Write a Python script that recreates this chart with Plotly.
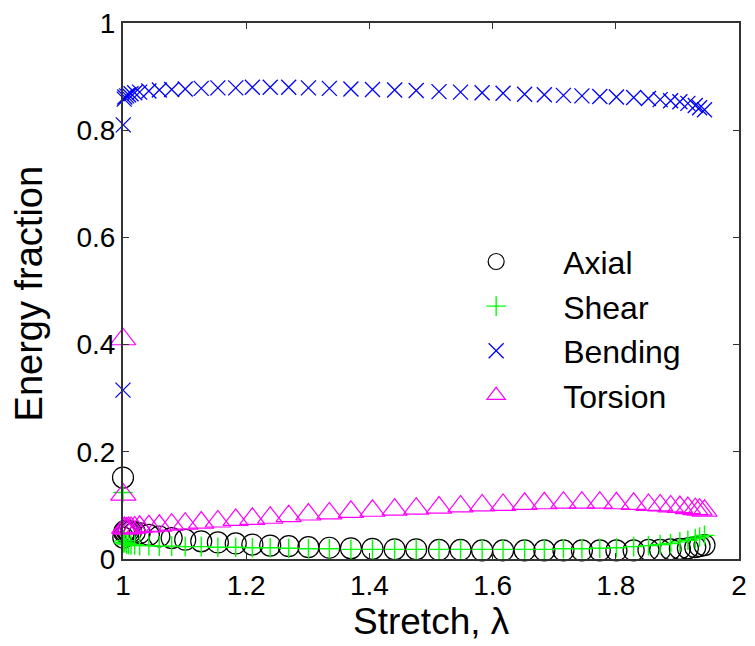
import plotly.graph_objects as go

stretch = [1.000, 1.0005, 1.002, 1.003, 1.006, 1.009, 1.013, 1.019, 1.027, 1.042,
           1.059, 1.079, 1.101, 1.127, 1.154, 1.183, 1.210, 1.239, 1.269, 1.301,
           1.335, 1.370, 1.405, 1.441, 1.476, 1.513, 1.548, 1.583, 1.617, 1.652,
           1.684, 1.715, 1.745, 1.774, 1.801, 1.829, 1.853, 1.872, 1.889, 1.904,
           1.917, 1.929, 1.936, 1.944]

axial = [0.152, 0.040, 0.050, 0.052, 0.053, 0.052, 0.051, 0.050, 0.048, 0.045,
         0.042, 0.039, 0.036, 0.033, 0.031, 0.029, 0.027, 0.025, 0.024, 0.022,
         0.021, 0.020, 0.019, 0.018, 0.018, 0.017, 0.017, 0.016, 0.016, 0.016,
         0.016, 0.016, 0.016, 0.016, 0.016, 0.016, 0.017, 0.017, 0.018, 0.019,
         0.020, 0.022, 0.024, 0.026]

shear = [0.124, 0.030, 0.034, 0.030, 0.028, 0.027, 0.026, 0.026, 0.025, 0.025,
         0.024, 0.024, 0.023, 0.023, 0.022, 0.022, 0.021, 0.021, 0.020, 0.019,
         0.019, 0.018, 0.018, 0.018, 0.018, 0.018, 0.018, 0.018, 0.018, 0.018,
         0.018, 0.019, 0.019, 0.020, 0.021, 0.023, 0.025, 0.027, 0.029, 0.032,
         0.035, 0.038, 0.041, 0.044]

bending = [0.315, 0.810, 0.858, 0.862, 0.864, 0.866, 0.868, 0.870, 0.871, 0.873,
           0.875, 0.876, 0.877, 0.878, 0.879, 0.879, 0.880, 0.880, 0.880, 0.879,
           0.878, 0.877, 0.876, 0.875, 0.874, 0.872, 0.871, 0.870, 0.869, 0.867,
           0.866, 0.865, 0.864, 0.863, 0.862, 0.861, 0.859, 0.857, 0.855, 0.853,
           0.850, 0.846, 0.842, 0.838]

torsion = [0.410, 0.120, 0.058, 0.057, 0.057, 0.058, 0.058, 0.059, 0.060, 0.061,
           0.062, 0.064, 0.066, 0.068, 0.070, 0.073, 0.075, 0.077, 0.080, 0.083,
           0.085, 0.088, 0.090, 0.092, 0.094, 0.096, 0.098, 0.100, 0.101, 0.103,
           0.104, 0.105, 0.105, 0.105, 0.104, 0.103, 0.101, 0.100, 0.098, 0.097,
           0.095, 0.093, 0.092, 0.090]

x_ticks = [1, 1.2, 1.4, 1.6, 1.8, 2]
x_tick_text = ["1", "1.2", "1.4", "1.6", "1.8", "2"]
y_ticks = [0, 0.2, 0.4, 0.6, 0.8, 1]
y_tick_text = ["0", "0.2", "0.4", "0.6", "0.8", "1"]

FONT = "Arial, Liberation Sans, sans-serif"

fig = go.Figure()
fig.add_trace(go.Scatter(x=stretch, y=axial, mode="markers", name="Axial",
                         cliponaxis=False, legendgroup="a",
                         marker=dict(symbol="circle-open", size=21, color="black",
                                     line=dict(width=1.2, color="black"))))
fig.add_trace(go.Scatter(x=stretch, y=shear, mode="markers", name="Shear",
                         cliponaxis=False, legendgroup="s",
                         marker=dict(symbol="cross-thin-open", size=14, color="#00ff00",
                                     line=dict(width=1.4, color="#00ff00"))))
fig.add_trace(go.Scatter(x=stretch, y=bending, mode="markers", name="Bending",
                         cliponaxis=False, legendgroup="b",
                         marker=dict(symbol="x-thin-open", size=15, color="#0000ff",
                                     line=dict(width=1.3, color="#0000ff"))))
fig.add_trace(go.Scatter(x=stretch, y=torsion, mode="markers", name="Torsion",
                         cliponaxis=False, legendgroup="t",
                         marker=dict(symbol="triangle-up-open", size=22, color="#ff00ff",
                                     line=dict(width=1.2, color="#ff00ff"))))

axis_common = dict(showline=True, linecolor="#333333", linewidth=2, mirror="ticks",
                   ticks="inside", ticklen=6, tickcolor="#333333", tickwidth=1,
                   showgrid=False, zeroline=False,
                   tickfont=dict(family=FONT, size=28, color="black"))

fig.update_xaxes(range=[1, 2], tickvals=x_ticks, ticktext=x_tick_text, **axis_common)
fig.update_yaxes(range=[0, 1], tickvals=y_ticks, ticktext=y_tick_text, **axis_common)

fig.add_annotation(text="Stretch, λ", xref="paper", yref="paper", x=0.5, y=-0.116,
                   xanchor="center", yanchor="middle", showarrow=False,
                   font=dict(family=FONT, size=37, color="black"))
fig.add_annotation(text="Energy fraction", xref="paper", yref="paper", x=-0.153, y=0.495,
                   xanchor="center", yanchor="middle", showarrow=False, textangle=-90,
                   font=dict(family=FONT, size=38, color="black"))

fig.update_layout(
    width=755, height=646,
    margin=dict(l=123, r=8, t=16, b=87),
    paper_bgcolor="white", plot_bgcolor="white",
    font=dict(family=FONT, color="black"),
    legend=dict(x=0.497, y=0.606, xanchor="left", yanchor="top",
                bgcolor="rgba(0,0,0,0)", borderwidth=0,
                font=dict(family=FONT, size=32, color="black"),
                itemwidth=124, tracegroupgap=0),
)

fig.write_html("out.html")
